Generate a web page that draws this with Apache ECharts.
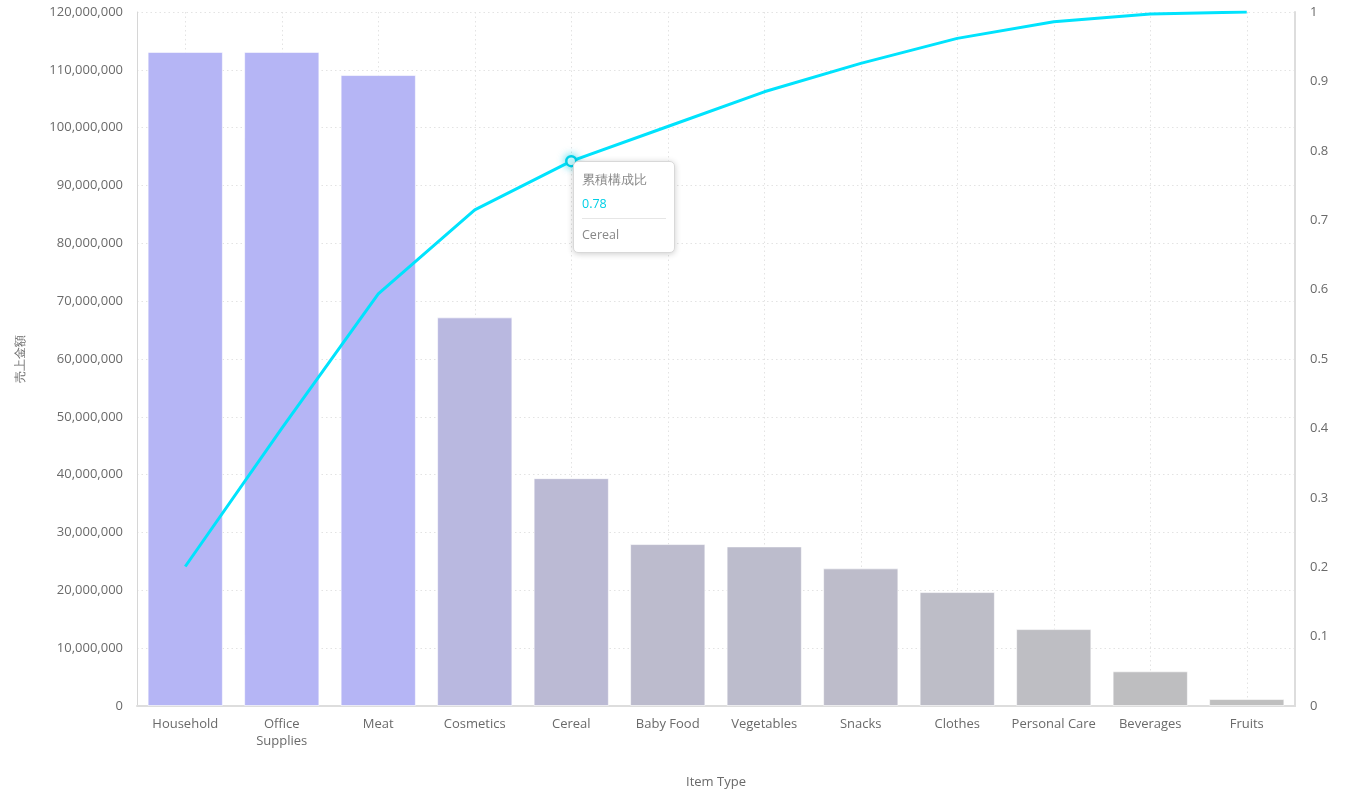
<!DOCTYPE html>
<html>
<head>
<meta charset="utf-8">
<script src="https://cdn.jsdelivr.net/npm/echarts@6/dist/echarts.min.js"></script>
<style>
html,body{margin:0;padding:0;background:#fff;}
#chart{width:1347px;height:794px;}
</style>
</head>
<body>
<div id="chart"></div>
<script>
// ---- data ----
const categories = ['Household','Office Supplies','Meat','Cosmetics','Cereal','Baby Food','Vegetables','Snacks','Clothes','Personal Care','Beverages','Fruits'];
const salesValues = [113100000,113100000,109100000,67200000,39400000,28000000,27600000,23800000,19700000,13300000,6000000,1200000];
const cumulativeRatio = [0.201,0.40,0.594,0.715,0.785,0.835,0.885,0.926,0.962,0.986,0.997,1.0];
const leftTicks = {min:0, max:120000000, interval:10000000};
const rightTicks = {min:0, max:1, interval:0.1};
const barSeriesName = '売上金額';
const lineSeriesName = '累積構成比';
const xAxisName = 'Item Type';

// ---- styles ----
const barColors = ['#b5b5f5','#b5b5f5','#b5b5f5','#b9b8e0','#bbbad4','#bcbbcd','#bcbccc','#bdbcca','#bdbdc7','#bebec3','#bebec0','#bfbfbf'];
const lineColor = '#00cfe6';
const labelColor = '#6a6a6a';
const fontFamily = '"Open Sans", sans-serif';

const chart = echarts.init(document.getElementById('chart'));
const option = {
  animation: false,
  textStyle: {fontFamily: fontFamily},
  grid: {left: 137, right: 52, top: 12, bottom: 87, containLabel: false},
  tooltip: {
    trigger: 'item',
    triggerOn: 'none',
    alwaysShowContent: true,
    backgroundColor: '#fff',
    borderColor: '#d8d8d8',
    borderWidth: 1,
    borderRadius: 5,
    padding: [8, 8],
    extraCssText: 'box-shadow: 0 1px 6px rgba(0,0,0,0.2);',
    position: function (point) { return [point[0] + 2, point[1]]; },
    formatter: function (p) {
      const v = Math.floor(p.value * 100) / 100;
      return '<div style="font-family:' + fontFamily.replace(/"/g,"'") + ';font-size:12.5px;line-height:16px;width:84px;">' +
        '<div style="color:#888;padding-top:2px;">' + p.seriesName + '</div>' +
        '<div style="color:' + lineColor + ';margin-top:8px;">' + v + '</div>' +
        '<div style="border-top:1px solid #e6e6e6;margin-top:6px;"></div>' +
        '<div style="color:#888;margin-top:8px;padding-bottom:1px;">' + p.name + '</div>' +
        '</div>';
    }
  },
  xAxis: [{
    type: 'category',
    data: categories,
    name: xAxisName,
    nameLocation: 'middle',
    nameGap: 70,
    nameTextStyle: {color: labelColor, fontSize: 13},
    axisLine: {show: true, lineStyle: {color: '#ddd', width: 2}},
    axisTick: {show: false},
    axisLabel: {
      color: labelColor, fontSize: 13, margin: 10, interval: 0, lineHeight: 17,
      formatter: function (v) { return v === 'Office Supplies' ? 'Office\nSupplies' : v; }
    },
    splitLine: {show: true, alignWithLabel: true, lineStyle: {color: '#e3e3e3', type: [1.5, 3]}}
  }],
  yAxis: [{
    type: 'value',
    min: leftTicks.min, max: leftTicks.max, interval: leftTicks.interval,
    name: barSeriesName,
    nameLocation: 'middle',
    nameGap: 110,
    nameRotate: 90,
    nameTextStyle: {color: labelColor, fontSize: 12},
    axisLine: {show: true, lineStyle: {color: '#d6d6d6', width: 1}},
    axisTick: {show: false},
    axisLabel: {color: labelColor, fontSize: 13, margin: 14,
      formatter: function (v) { return v.toLocaleString('en-US'); }},
    splitLine: {show: true, lineStyle: {color: '#e3e3e3', type: [1.5, 3]}}
  }, {
    type: 'value',
    min: rightTicks.min, max: rightTicks.max, interval: rightTicks.interval,
    position: 'right',
    axisLine: {show: true, lineStyle: {color: '#ddd', width: 2}},
    axisTick: {show: false},
    axisLabel: {color: labelColor, fontSize: 13, margin: 15},
    splitLine: {show: false}
  }],
  series: [{
    name: barSeriesName,
    type: 'bar',
    yAxisIndex: 0,
    barWidth: '78%',
    data: salesValues.map(function (v, i) {
      return {value: v, itemStyle: {color: barColors[i]}};
    }),
    itemStyle: {borderColor: 'rgba(255,255,255,0.6)', borderWidth: 1},
    silent: true
  }, {
    name: lineSeriesName,
    type: 'line',
    yAxisIndex: 1,
    data: cumulativeRatio,
    showSymbol: false,
    symbol: 'circle',
    symbolSize: 9,
    lineStyle: {color: lineColor, width: 3},
    itemStyle: {color: '#fff', borderColor: lineColor, borderWidth: 2},
    emphasis: {
      scale: 1.1,
      itemStyle: {color: '#fff', borderColor: lineColor, borderWidth: 2.5,
        shadowBlur: 8, shadowColor: 'rgba(0,207,230,0.7)'},
      lineStyle: {width: 3}
    },
    z: 5
  }]
};
chart.setOption(option);
chart.dispatchAction({type: 'highlight', seriesIndex: 1, dataIndex: 4});
chart.dispatchAction({type: 'showTip', seriesIndex: 1, dataIndex: 4});
</script>
</body>
</html>
